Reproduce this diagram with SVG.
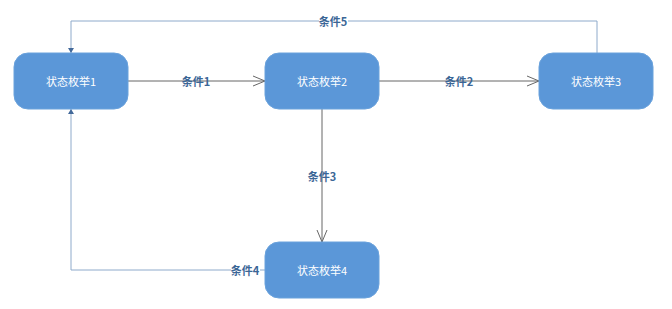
<svg xmlns="http://www.w3.org/2000/svg" width="672" height="309" viewBox="0 0 672 309">
<defs>
<style>
.node rect{fill:#5b97d8;stroke:#6aa2dc;stroke-width:1}
.node text{fill:#fff;font-family:"Noto Sans CJK SC","Noto Sans",sans-serif;font-size:11px;text-anchor:middle;dominant-baseline:central}
.c{fill:none;stroke:#666;stroke-width:1}
.cb{fill:none;stroke:#8eaacb;stroke-width:1}
.lbl{fill:#3b6696;font-family:"Noto Sans CJK SC","Noto Sans",sans-serif;font-size:11px;font-weight:bold;text-anchor:middle;dominant-baseline:central}
</style>
<marker id="open" markerWidth="14" markerHeight="12" refX="12" refY="6" orient="auto" markerUnits="userSpaceOnUse">
<path d="M0,1 L12,6 L0,11" fill="none" stroke="#666" stroke-width="1"/>
</marker>
<marker id="tri" markerWidth="8" markerHeight="8" refX="5" refY="4" orient="auto" markerUnits="userSpaceOnUse">
<path d="M0,1 L5,4 L0,7 Z" fill="#43699a"/>
</marker>
</defs>
<rect width="672" height="309" fill="#fff"/>
<g id="connectors">
<path class="c" d="M128,81 H265" marker-end="url(#open)"/>
<path class="c" d="M379,81 H539" marker-end="url(#open)"/>
<path class="c" d="M322,109 V242" marker-end="url(#open)"/>
<path class="cb" d="M265,270 H71 V109" marker-end="url(#tri)"/>
<path class="cb" d="M597,53 V21 H71 V53" marker-end="url(#tri)"/>
<text class="lbl" x="196" y="81">条件1</text>
<text class="lbl" x="459" y="81">条件2</text>
<text class="lbl" x="322" y="176">条件3</text>
<rect x="231" y="263" width="29" height="14" fill="#fff"/>
<text class="lbl" x="245" y="270">条件4</text>
<rect x="319" y="14" width="29" height="14" fill="#fff"/>
<text class="lbl" x="333" y="21">条件5</text>
</g>
<g id="n1" class="node"><rect x="14" y="53" width="114" height="56" rx="14"/><text x="71" y="81">状态枚举1</text></g>
<g id="n2" class="node"><rect x="265" y="53" width="114" height="56" rx="14"/><text x="322" y="81">状态枚举2</text></g>
<g id="n3" class="node"><rect x="539" y="53" width="114" height="56" rx="14"/><text x="596" y="81">状态枚举3</text></g>
<g id="n4" class="node"><rect x="265" y="242" width="114" height="56" rx="14"/><text x="322" y="270">状态枚举4</text></g>
</svg>
